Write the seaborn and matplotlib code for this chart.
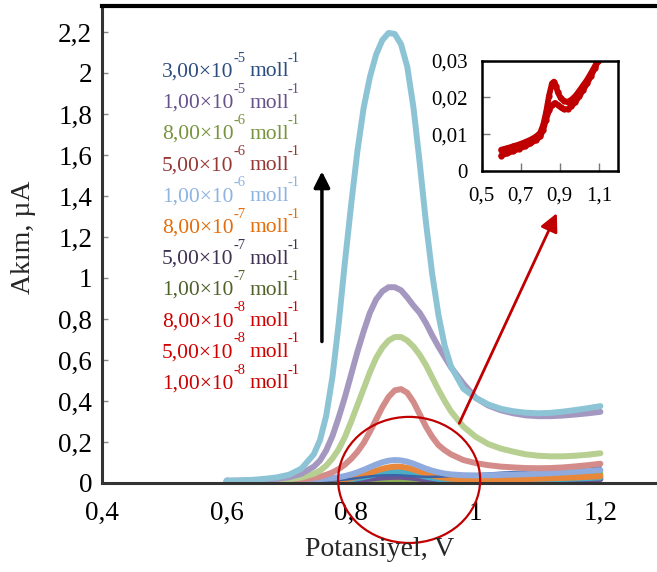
import matplotlib
matplotlib.use("Agg")
import matplotlib.pyplot as plt
import seaborn as sns
import pandas as pd
from matplotlib.patches import Ellipse

# Potential axis shared by all voltammograms (V)
potential = [0.60, 0.62, 0.64, 0.66, 0.68, 0.70, 0.72, 0.74,
             0.75, 0.76, 0.77, 0.78, 0.79, 0.80, 0.81, 0.82, 0.83, 0.84, 0.85,
             0.86, 0.87, 0.88, 0.89, 0.90, 0.91, 0.92, 0.93, 0.94, 0.95, 0.96,
             0.98, 1.00, 1.02, 1.04, 1.06, 1.08, 1.10, 1.12, 1.14, 1.16, 1.18, 1.20]

# Current (µA) for each concentration
cur_3e5 = [0.010, 0.012, 0.015, 0.020, 0.027, 0.040, 0.070, 0.140,
           0.210, 0.330, 0.520, 0.780, 1.080, 1.360, 1.620, 1.830, 1.980, 2.090, 2.160,
           2.195, 2.190, 2.140, 2.030, 1.830, 1.560, 1.270, 1.020, 0.820, 0.670, 0.570,
           0.460, 0.415, 0.383, 0.362, 0.350, 0.343, 0.340, 0.342, 0.348, 0.356, 0.365, 0.375]
cur_1e5 = [0.008, 0.010, 0.012, 0.015, 0.020, 0.028, 0.045, 0.080,
           0.110, 0.160, 0.230, 0.320, 0.420, 0.530, 0.640, 0.740, 0.830, 0.895, 0.935,
           0.955, 0.955, 0.940, 0.905, 0.865, 0.830, 0.780, 0.720, 0.665, 0.615, 0.565,
           0.485, 0.415, 0.378, 0.355, 0.340, 0.330, 0.326, 0.326, 0.329, 0.334, 0.340, 0.347]
cur_8e6 = [0.005, 0.006, 0.008, 0.010, 0.013, 0.018, 0.027, 0.045,
           0.060, 0.085, 0.120, 0.165, 0.225, 0.300, 0.380, 0.460, 0.540, 0.610, 0.660,
           0.695, 0.712, 0.712, 0.695, 0.665, 0.625, 0.575, 0.515, 0.455, 0.400, 0.350,
           0.275, 0.225, 0.190, 0.168, 0.153, 0.140, 0.133, 0.130, 0.130, 0.133, 0.138, 0.145]
cur_5e6 = [0.004, 0.005, 0.006, 0.007, 0.009, 0.012, 0.017, 0.025,
           0.031, 0.040, 0.052, 0.068, 0.090, 0.118, 0.152, 0.195, 0.250, 0.310, 0.370,
           0.420, 0.452, 0.458, 0.440, 0.395, 0.335, 0.275, 0.225, 0.185, 0.160, 0.140,
           0.112, 0.097, 0.087, 0.080, 0.076, 0.073, 0.072, 0.073, 0.076, 0.081, 0.087, 0.094]
cur_1e6 = [0.012, 0.012, 0.013, 0.013, 0.014, 0.015, 0.016, 0.018,
           0.019, 0.021, 0.024, 0.028, 0.034, 0.042, 0.052, 0.064, 0.077, 0.090, 0.101,
           0.109, 0.112, 0.110, 0.104, 0.094, 0.082, 0.070, 0.060, 0.052, 0.046, 0.042,
           0.038, 0.037, 0.038, 0.039, 0.041, 0.043, 0.045, 0.048, 0.051, 0.055, 0.059, 0.063]
cur_8e7 = [0.003, 0.003, 0.004, 0.004, 0.004, 0.005, 0.006, 0.007,
           0.008, 0.009, 0.011, 0.014, 0.018, 0.024, 0.031, 0.040, 0.050, 0.060, 0.069,
           0.076, 0.080, 0.079, 0.074, 0.066, 0.056, 0.046, 0.037, 0.030, 0.025, 0.021,
           0.017, 0.016, 0.016, 0.017, 0.018, 0.019, 0.021, 0.023, 0.025, 0.027, 0.030, 0.033]
cur_5e7 = [0.003, 0.003, 0.003, 0.004, 0.004, 0.004, 0.005, 0.006,
           0.007, 0.008, 0.009, 0.011, 0.014, 0.018, 0.023, 0.029, 0.036, 0.043, 0.049,
           0.054, 0.056, 0.055, 0.051, 0.045, 0.038, 0.031, 0.025, 0.020, 0.016, 0.014,
           0.012, 0.011, 0.011, 0.012, 0.013, 0.014, 0.016, 0.018, 0.020, 0.022, 0.024, 0.027]
cur_1e7 = [0.002, 0.002, 0.002, 0.002, 0.003, 0.003, 0.003, 0.004,
           0.004, 0.005, 0.006, 0.007, 0.009, 0.011, 0.014, 0.017, 0.021, 0.024, 0.027,
           0.029, 0.030, 0.030, 0.028, 0.025, 0.021, 0.017, 0.014, 0.011, 0.009, 0.008,
           0.007, 0.007, 0.007, 0.008, 0.009, 0.010, 0.011, 0.012, 0.013, 0.015, 0.017, 0.019]
cur_8e8 = [0.001, 0.001, 0.001, 0.001, 0.001, 0.002, 0.002, 0.002,
           0.002, 0.003, 0.003, 0.004, 0.005, 0.006, 0.007, 0.008, 0.009, 0.010, 0.011,
           0.012, 0.012, 0.012, 0.012, 0.011, 0.011, 0.010, 0.010, 0.010, 0.010, 0.010,
           0.011, 0.012, 0.014, 0.016, 0.018, 0.021, 0.024, 0.027, 0.031, 0.035, 0.040, 0.045]
cur_5e8 = [0.004, 0.004, 0.004, 0.005, 0.005, 0.006, 0.007, 0.008,
           0.009, 0.010, 0.012, 0.014, 0.017, 0.020, 0.024, 0.028, 0.032, 0.035, 0.037,
           0.038, 0.038, 0.037, 0.035, 0.033, 0.031, 0.030, 0.030, 0.031, 0.032, 0.034,
           0.038, 0.042, 0.046, 0.050, 0.053, 0.056, 0.059, 0.062, 0.065, 0.069, 0.073, 0.078]

# Lowest concentration (inset), forward and reverse scans
inset_fwd_v = [0.60, 0.63, 0.66, 0.69, 0.72, 0.75, 0.78, 0.80, 0.815, 0.83, 0.845, 0.86,
               0.87, 0.88, 0.89, 0.905, 0.92, 0.94, 0.96, 0.98, 1.00, 1.02, 1.04, 1.06,
               1.08, 1.095]
inset_fwd_i = [0.0058, 0.0062, 0.0067, 0.0072, 0.0078, 0.0085, 0.0094, 0.0104, 0.0125,
               0.0160, 0.0205, 0.0238, 0.0243, 0.0232, 0.0214, 0.0198, 0.0191, 0.0188,
               0.0194, 0.0204, 0.0218, 0.0233, 0.0248, 0.0266, 0.0285, 0.0300]
inset_rev_v = [0.60, 0.63, 0.66, 0.69, 0.72, 0.75, 0.78, 0.80, 0.815, 0.83, 0.845, 0.86,
               0.875, 0.89, 0.905, 0.92, 0.94, 0.96, 0.98, 1.00, 1.02, 1.04, 1.06, 1.08,
               1.095]
inset_rev_i = [0.0042, 0.0048, 0.0054, 0.0060, 0.0067, 0.0075, 0.0085, 0.0094, 0.0112,
               0.0140, 0.0165, 0.0179, 0.0185, 0.0180, 0.0173, 0.0168, 0.0168, 0.0176,
               0.0188, 0.0203, 0.0220, 0.0238, 0.0258, 0.0280, 0.0298]

# Concentration labels (mantissa, exponent) and their text colours
conc_mantissa = ["3,00", "1,00", "8,00", "5,00", "1,00", "8,00", "5,00", "1,00", "8,00", "5,00", "1,00"]
conc_exponent = ["-5", "-5", "-6", "-6", "-6", "-7", "-7", "-7", "-8", "-8", "-8"]
label_colors = ["#2B4C7E", "#66518A", "#77933C", "#953735", "#8DB3E2", "#E46C0A",
                "#3F3151", "#4F6228", "#D00000", "#D00000", "#C80000"]

x_ticks = [0.4, 0.6, 0.8, 1.0, 1.2]
x_ticklabels = ["0,4", "0,6", "0,8", "1", "1,2"]
y_ticks = [0, 0.2, 0.4, 0.6, 0.8, 1.0, 1.2, 1.4, 1.6, 1.8, 2.0, 2.2]
y_ticklabels = ["0", "0,2", "0,4", "0,6", "0,8", "1", "1,2", "1,4", "1,6", "1,8", "2", "2,2"]
inset_xticks = [0.5, 0.7, 0.9, 1.1]
inset_xticklabels = ["0,5", "0,7", "0,9", "1,1"]
inset_yticks = [0, 0.01, 0.02, 0.03]
inset_yticklabels = ["0", "0,01", "0,02", "0,03"]

sns.set_theme(style="white")
plt.rcParams["font.family"] = ["Liberation Serif", "DejaVu Serif"]

W, H = 657, 572
fig = plt.figure(figsize=(W / 100, H / 100), dpi=100)
fig.patch.set_facecolor("white")

ax = fig.add_axes([102 / W, 1 - 483 / H, 0.9 * 623 / W, 477.5 / H])
ax.set_facecolor("white")

# small curves first, big peaks on top
curves = [
    (cur_8e8, "#8DB255", 4.3),
    (cur_1e7, "#6B5494", 4.3),
    (cur_5e7, "#4BACC6", 4.3),
    (cur_8e7, "#E8873A", 4.3),
    (cur_5e8, "#3B64A8", 1.8),
    (cur_1e6, "#8FAADC", 4.3),
    (cur_5e6, "#D48C8A", 4.3),
    (cur_8e6, "#B7CF91", 4.3),
    (cur_1e5, "#A598C0", 4.3),
    (cur_3e5, "#8CC4D6", 4.3),
]
for vals, col, lw in curves:
    df = pd.DataFrame({"E": potential, "I": vals})
    sns.lineplot(data=df, x="E", y="I", ax=ax, color=col, linewidth=lw,
                 estimator=None, sort=True, solid_joinstyle="round")

ax.set_xlim(0.4, 1.3)
ax.set_ylim(0, 2.329)
ax.set_xticks(x_ticks)
ax.set_xticklabels(x_ticklabels)
ax.set_yticks(y_ticks)
ax.set_yticklabels(y_ticklabels)
ax.set_xlabel("")
ax.set_ylabel("")
ax.tick_params(axis="both", direction="in", length=4, width=1, color="#888888",
               labelsize=19.5, labelcolor="black")
ax.tick_params(axis="y", pad=7, left=True)
ax.tick_params(axis="x", pad=13, bottom=True)
for side in ["left", "bottom"]:
    ax.spines[side].set_color("#333333")
    ax.spines[side].set_linewidth(2.2)
ax.spines["top"].set_color("black")
ax.spines["top"].set_linewidth(3)
ax.spines["right"].set_visible(False)

fig.text(24 / W, 1 - 237 / H, "Akım, µA", rotation=90, ha="center", va="center",
         fontsize=20)
fig.text(380 / W, 1 - 549 / H, "Potansiyel, V", ha="center", va="center", fontsize=20)

# concentration labels: mantissa, superscript exponent, unit, superscript -1
for k, (m, e, c) in enumerate(zip(conc_mantissa, conc_exponent, label_colors)):
    yb = 76.5 + 31.2 * k
    fig.text(161.7 / W, 1 - yb / H, m + "×10", color=c, fontsize=15.5,
             ha="left", va="baseline")
    fig.text(233 / W, 1 - (yb - 15) / H, e, color=c, fontsize=10.5,
             ha="left", va="baseline")
    fig.text(249 / W, 1 - yb / H, "moll", color=c, fontsize=15.5,
             ha="left", va="baseline")
    fig.text(288 / W, 1 - (yb - 15) / H, "-1", color=c, fontsize=10.5,
             ha="left", va="baseline")

# black arrow indicating increasing concentration
ax.annotate("", xy=(0.753, 1.52), xytext=(0.753, 0.69),
            arrowprops=dict(arrowstyle="-|>,head_length=0.8,head_width=0.4",
                            color="black", lw=2.5, shrinkA=0, shrinkB=0),
            annotation_clip=False)

# red ellipse around the low-concentration curves and arrow to the inset
ax.add_patch(Ellipse((0.893, 0.015), 0.228, 0.615, fill=False, edgecolor="#C00000",
                     linewidth=1.6, clip_on=False, zorder=5))
ax.annotate("", xy=(1.13, 1.316), xytext=(0.9735, 0.291),
            arrowprops=dict(arrowstyle="-|>,head_length=0.9,head_width=0.45",
                            color="#C00000", lw=2, shrinkA=0, shrinkB=0),
            annotation_clip=False, zorder=6)

# inset with the lowest concentration
axi = fig.add_axes([481.7 / W, 1 - 171 / H, 136.6 / W, 110.3 / H])
axi.set_facecolor("white")
for v, i in [(inset_fwd_v, inset_fwd_i), (inset_rev_v, inset_rev_i)]:
    dfi = pd.DataFrame({"E": v, "I": i})
    sns.lineplot(data=dfi, x="E", y="I", ax=axi, color="#C00000", linewidth=4.2,
                 estimator=None, marker="o", markersize=4.5, markeredgewidth=0,
                 solid_joinstyle="round")
axi.set_xlim(0.5, 1.2)
axi.set_ylim(0, 0.03)
axi.set_xticks(inset_xticks)
axi.set_xticklabels(inset_xticklabels)
axi.set_yticks(inset_yticks)
axi.set_yticklabels(inset_yticklabels)
axi.set_xlabel("")
axi.set_ylabel("")
axi.tick_params(axis="both", direction="in", length=6, width=1, color="#777777",
                labelsize=15, labelcolor="black", left=True, bottom=True)
axi.tick_params(axis="x", pad=11)
axi.tick_params(axis="y", pad=10)
for s in axi.spines.values():
    s.set_color("black")
    s.set_linewidth(1.8)

fig.savefig("out.png", dpi=100, facecolor="white")
